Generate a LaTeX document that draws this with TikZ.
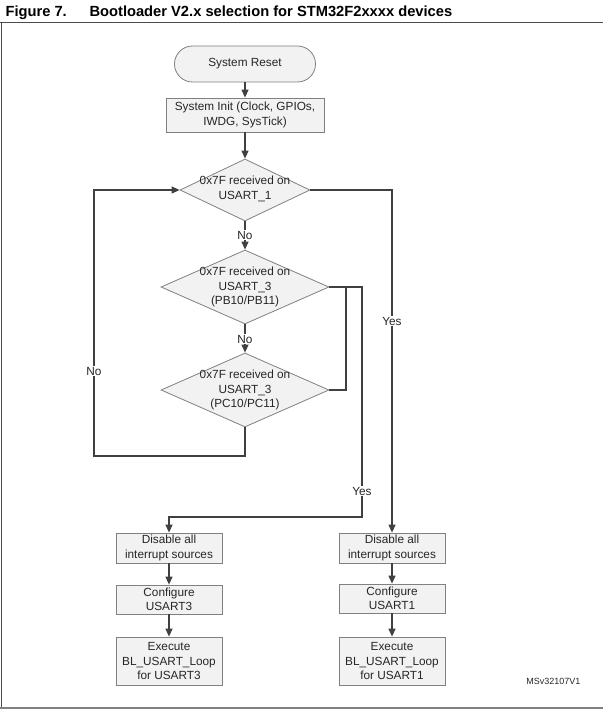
\documentclass[tikz,border=0pt]{standalone}
\usepackage{fontspec}
\setmainfont{Liberation Sans}
\usetikzlibrary{arrows.meta,shapes.geometric}
\begin{document}
\begin{tikzpicture}[x=1pt,y=-1pt,
  txt/.style={font=\fontsize{11.8}{14.5}\selectfont, align=center, text=black!85},
  box/.style={txt, draw=black!50, fill=black!5, line width=0.8pt, inner sep=0pt},
  colbox/.style={box, minimum width=106pt},
  dia/.style={shape=diamond, draw=black!50, fill=black!5, line width=0.8pt, inner sep=0pt},
  conn/.style={draw=black!75, line width=1.2pt},
  arr/.style={conn, -{Triangle[length=8pt,width=7pt]}},
  lbl/.style={txt, fill=white, inner sep=1pt},
  frame/.style={draw=black!70, line width=1pt}
]
\useasboundingbox (0,0) rectangle (603,711);

% title and frame
\node[anchor=base west, font=\fontsize{14.7}{17}\selectfont\bfseries] (fig) at (2,17) {Figure 7.};
\node[anchor=base west, font=\fontsize{14.7}{17}\selectfont\bfseries] (title) at (86,17) {Bootloader V2.x selection for STM32F2xxxx devices};
\draw[frame] (0,23) -- (603,23);
\draw[frame] (1.5,23) -- (1.5,708);
\draw[draw=black!50, line width=2.5pt] (0,708) -- (603,708);

% nodes
\node[box, rounded corners=18pt, minimum width=141pt, minimum height=36pt] (reset) at (245,64) {System Reset};
\node[box, minimum width=158pt, minimum height=34pt] (init) at (245,115) {System Init (Clock, GPIOs,\\IWDG, SysTick)};

\node[dia, minimum width=130pt, minimum height=62pt] (d1) at (245,190) {};
\node[txt] (t1) at (245,189) {0x7F received on\\USART\_1};
\node[dia, minimum width=168pt, minimum height=74pt] (d2) at (245,287) {};
\node[txt] (t2) at (245,287) {0x7F received on\\USART\_3\\(PB10/PB11)};
\node[dia, minimum width=168pt, minimum height=74pt] (d3) at (245,390) {};
\node[txt] (t3) at (245,390) {0x7F received on\\USART\_3\\(PC10/PC11)};

\node[colbox, minimum height=30pt] (l1) at (169,548) {Disable all\\interrupt sources};
\node[colbox, minimum height=29pt] (l2) at (169,599.5) {Configure\\USART3};
\node[colbox, minimum height=48pt] (l3) at (169,661) {Execute\\BL\_USART\_Loop\\for USART3};

\node[colbox, minimum height=30pt] (r1) at (392,548) {Disable all\\interrupt sources};
\node[colbox, minimum height=29pt] (r2) at (392,598.5) {Configure\\USART1};
\node[colbox, minimum height=48pt] (r3) at (392,661) {Execute\\BL\_USART\_Loop\\for USART1};

\node[anchor=base east, font=\fontsize{9}{10}\selectfont, text=black!85] (ms) at (584,684) {MSv32107V1};

% connectors
\coordinate (loopc) at (94,456);
\coordinate (yj) at (362,517);
\coordinate (k) at (346,287);

\draw[arr] (reset) -- (init);
\draw[arr] (init) -- (d1);
\draw[arr] (d1.south) -- (d2.north);
\draw[arr] (d2.south) -- (d3.north);
\draw[arr] (d3.south) |- (loopc) |- (d1.west);
\draw[arr] (d1.east) -| (r1.north);
\draw[arr] (d2.east) -| (yj) -| (l1.north);
\draw[conn] (d3.east) -| (k);

\draw[arr] (l1) -- (l2);
\draw[arr] (l2) -- (l3);
\draw[arr] (r1) -- (r2);
\draw[arr] (r2) -- (r3);

% connector labels
\node[lbl] (no1) at (245,235) {No};
\node[lbl] (no2) at (245,339) {No};
\node[lbl] (no3) at (94,371) {No};
\node[lbl] (yes1) at (392,321) {Yes};
\node[lbl] (yes2) at (362,491) {Yes};
\end{tikzpicture}
\end{document}
